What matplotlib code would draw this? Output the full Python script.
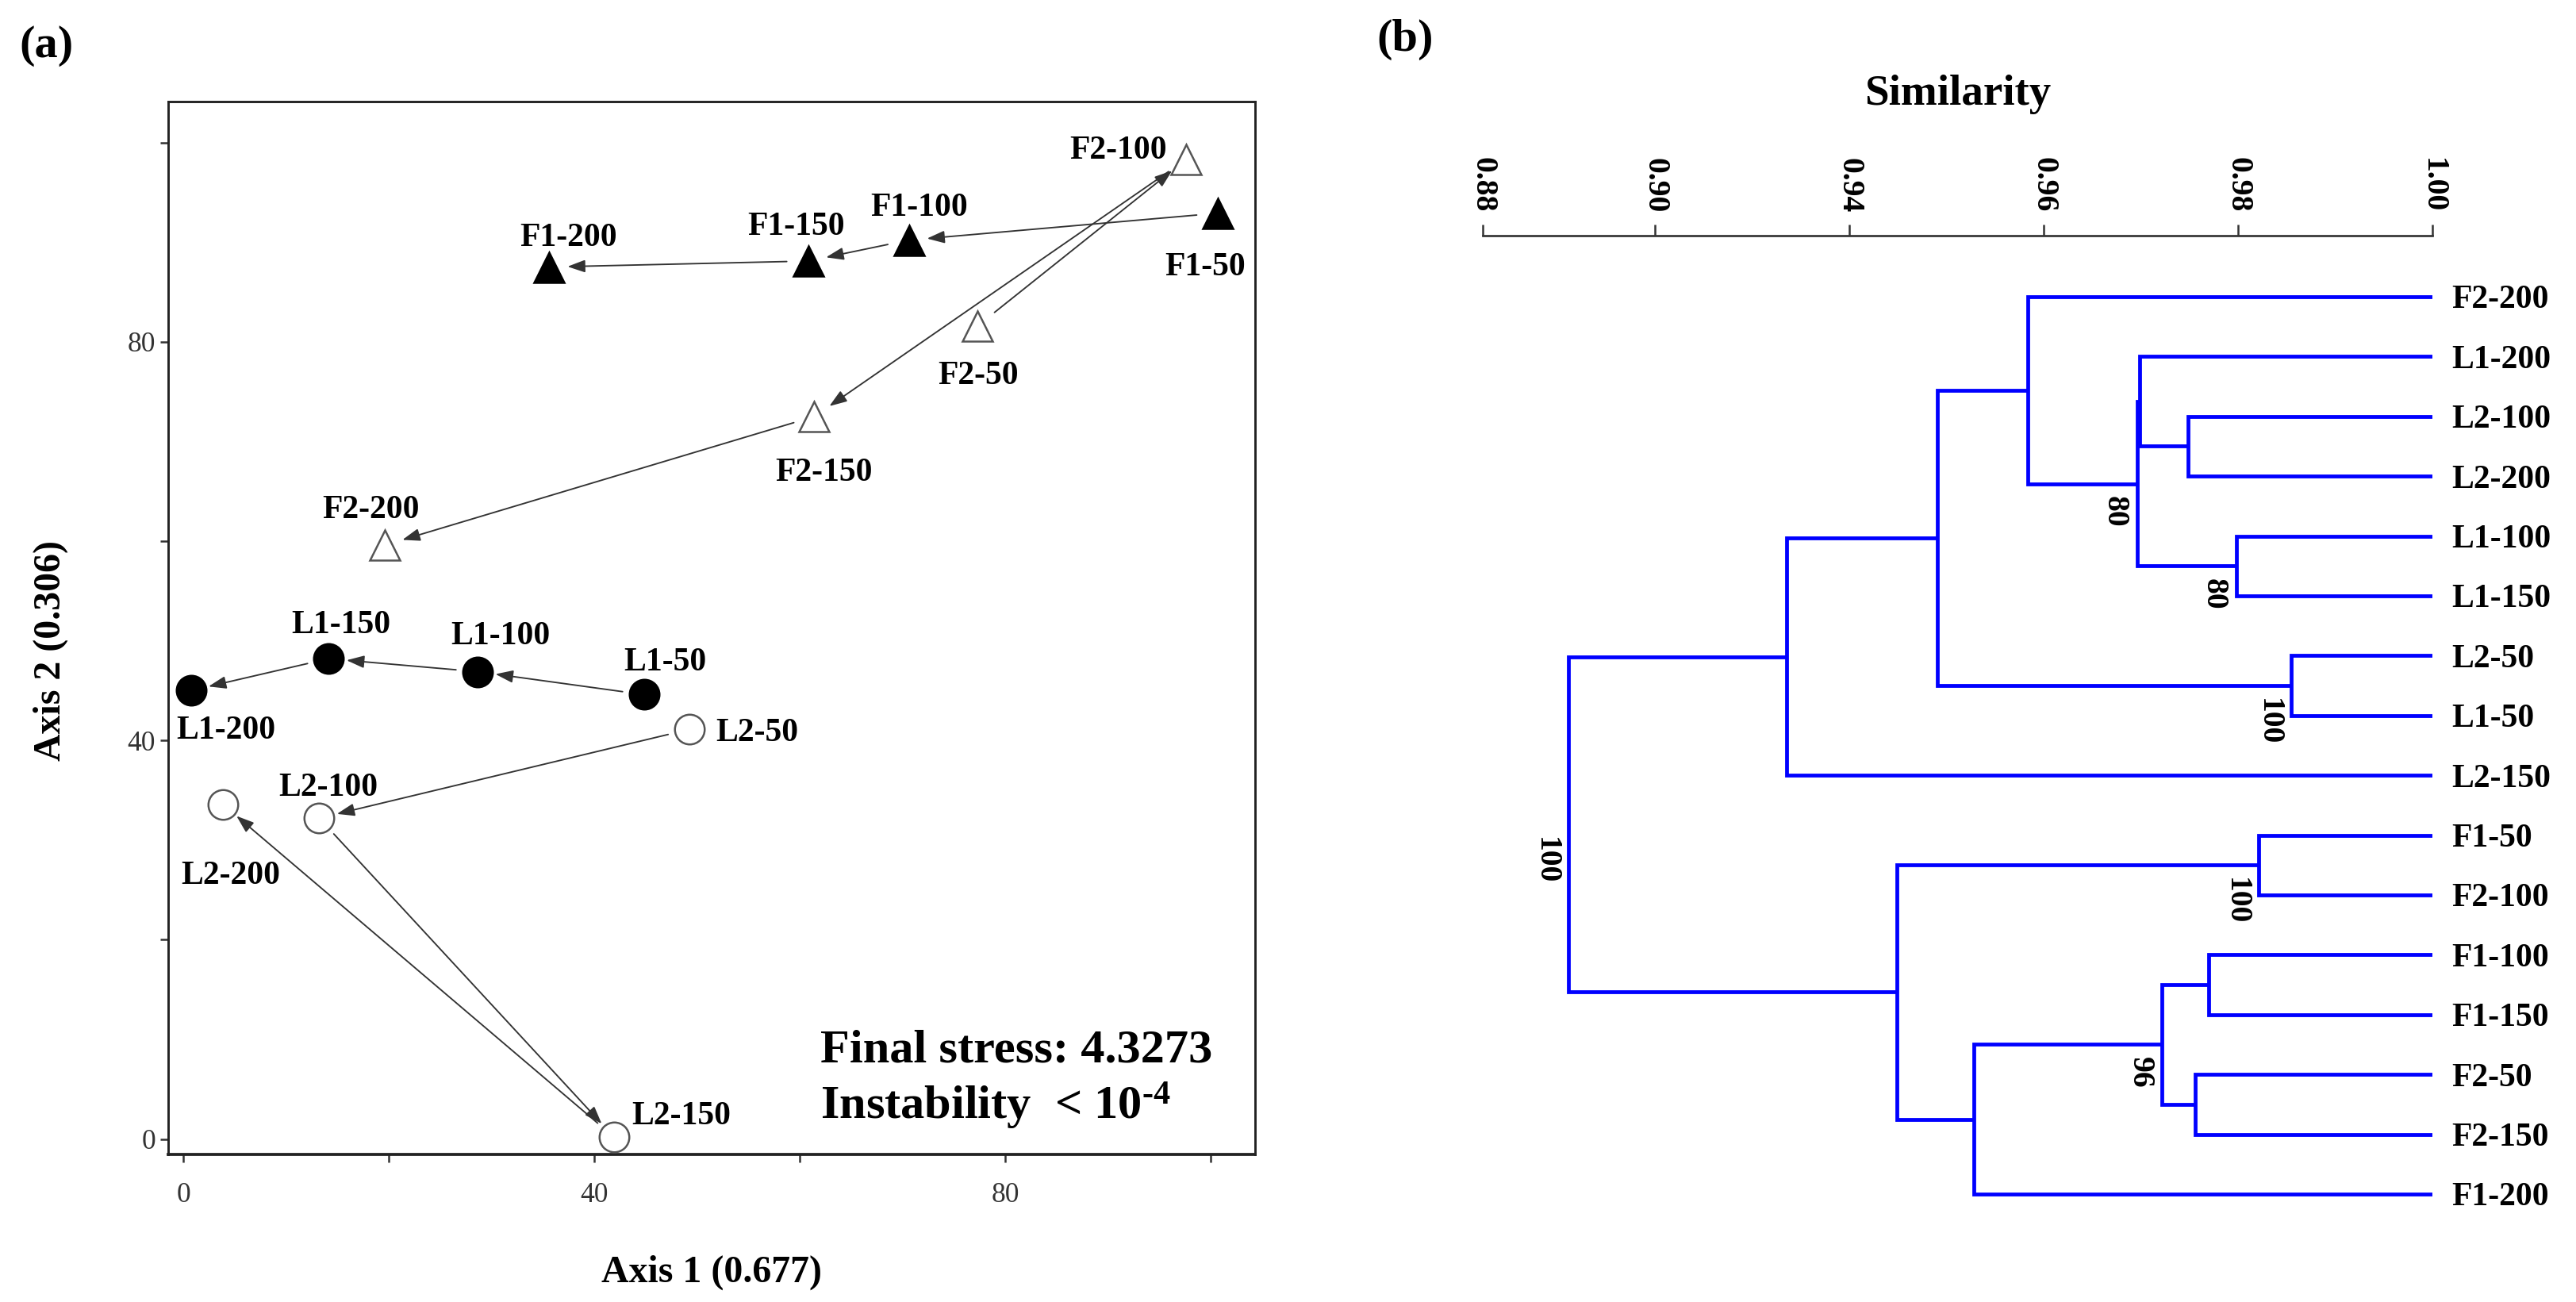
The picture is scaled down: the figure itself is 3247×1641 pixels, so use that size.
import matplotlib as mpl
mpl.use('Agg')
import matplotlib.pyplot as plt

plt.rcParams['font.family'] = 'Liberation Serif'
plt.rcParams['mathtext.fontset'] = 'custom'
plt.rcParams['mathtext.rm'] = 'Liberation Serif:bold'
plt.rcParams['mathtext.it'] = 'Liberation Serif:bold'
plt.rcParams['mathtext.bf'] = 'Liberation Serif:bold'

# ---- (a) NMDS ordination scores, doses 50/100/150/200 ----
doses = [50, 100, 150, 200]
f1_x = [100.7, 70.6, 60.8, 35.6]
f1_y = [92.9, 90.2, 88.1, 87.5]
f2_x = [77.3, 97.6, 61.4, 19.6]
f2_y = [81.6, 98.3, 72.5, 59.6]
l1_x = [44.8, 28.6, 14.1, 0.7]
l1_y = [44.6, 46.9, 48.2, 45.0]
l2_x = [49.2, 13.2, 41.9, 3.8]
l2_y = [41.1, 32.2, 0.2, 33.6]

# ---- (b) dendrogram: leaf order and merges (child, child, similarity) ----
leaves = ['F2-200', 'L1-200', 'L2-100', 'L2-200', 'L1-100', 'L1-150', 'L2-50', 'L1-50',
          'L2-150', 'F1-50', 'F2-100', 'F1-100', 'F1-150', 'F2-50', 'F2-150', 'F1-200']
merges = [(2, 3, 0.9749), (4, 5, 0.9798), (6, 7, 0.9855), (9, 10, 0.9821),
          (11, 12, 0.9770), (13, 14, 0.9756), (1, 16, 0.9699), (22, 17, 0.9696),
          (0, 23, 0.9584), (24, 18, 0.9491), (25, 8, 0.9336), (20, 21, 0.9722),
          (27, 15, 0.9528), (19, 28, 0.9449), (26, 29, 0.9111)]
boot_nodes = [1, 2, 3, 7, 11, 14]
boot_vals = ['80', '100', '100', '80', '96', '100']
sim_ticks = [0.9023, 0.92, 0.94, 0.96, 0.98, 1.00]
sim_labels = ['0.88', '0.90', '0.94', '0.96', '0.98', '1.00']

W, H = 3247, 1641
fig = plt.figure(figsize=(W / 300, H / 300), dpi=300)

# label offsets (points) around each marker
lab_off = {
    'F1-50': (-4.0, -15.3), 'F1-100': (3.2, 10.8), 'F1-150': (-3.7, 11.3), 'F1-200': (5.7, 9.9),
    'F2-50': (0.1, -14.2), 'F2-100': (-20.6, 3.6), 'F2-150': (2.8, -16.0), 'F2-200': (-4.3, 11.7),
    'L1-50': (6.5, 10.7), 'L1-100': (7.1, 11.8), 'L1-150': (3.8, 11.3), 'L1-200': (10.6, -11.0),
    'L2-50': (20.5, 0.0), 'L2-100': (2.8, 10.3), 'L2-150': (20.3, 7.3), 'L2-200': (2.5, -20.5),
}

ax = fig.add_axes([211.5 / W, 1 - 1454.5 / H, (1582 - 211.5) / W, (1454.5 - 128) / H])
ax.set_xlim(-1.54, 104.3)
ax.set_ylim(-1.5, 104.1)

series = [('F1', f1_x, f1_y, '^', 'black'), ('F2', f2_x, f2_y, '^', 'white'),
          ('L1', l1_x, l1_y, 'o', 'black'), ('L2', l2_x, l2_y, 'o', 'white')]
for grp, xs, ys, mk, fc in series:
    for k in range(len(xs) - 1):
        ax.annotate('', xy=(xs[k + 1], ys[k + 1]), xytext=(xs[k], ys[k]),
                    arrowprops=dict(arrowstyle='-|>,head_length=0.45,head_width=0.16',
                                    color='#333333', lw=0.45, shrinkA=6.5, shrinkB=5.5,
                                    mutation_scale=10))
    ax.plot(xs, ys, ls='none', marker=mk, ms=9, mfc=fc,
            mec='black' if fc == 'black' else '#555555', mew=0.6, zorder=3)
    for d, x, y in zip(doses, xs, ys):
        name = f'{grp}-{d}'
        ax.annotate(name, (x, y), xytext=lab_off[name], textcoords='offset points',
                    ha='center', va='center_baseline', fontsize=10, fontweight='bold')

ax.set_xticks([0, 40, 80])
ax.set_xticks([20, 60, 100], minor=True)
ax.set_yticks([0, 40, 80])
ax.set_yticks([20, 60, 100], minor=True)
ax.tick_params(which='both', direction='out', length=2.5, width=0.6, color='#333333')
ax.tick_params(axis='x', which='both', pad=6, labelsize=8.5, labelcolor='#333333')
ax.tick_params(axis='y', which='both', pad=1.2, labelsize=8.5, labelcolor='#333333')
for sp in ax.spines.values():
    sp.set_linewidth(0.7)
    sp.set_color('#222222')
ax.spines['bottom'].set_linewidth(0.9)

ax.set_xlabel('Axis 1 (0.677)', fontsize=11.5, fontweight='bold', labelpad=14)
ax.set_ylabel('Axis 2 (0.306)', fontsize=11.5, fontweight='bold')
ax.yaxis.set_label_coords(-0.0916, 0.478)

ax.text(0.600, 0.0871, 'Final stress: 4.3273', transform=ax.transAxes,
        fontsize=14.5, fontweight='bold', va='baseline')
ax.text(0.600, 0.0332, r'Instability  < 10$^{\text{-}4}$', transform=ax.transAxes,
        fontsize=14.5, fontweight='bold', va='baseline')

# ---- (b) dendrogram ----
ax2 = fig.add_axes([1869 / W, 1 - 1560 / H, (3066 - 1869) / W, (1560 - 297) / H])
ax2.set_xlim(sim_ticks[0], 1.0)
ax2.set_ylim(15.73, -1.021)

pos = [(1.0, i) for i in range(len(leaves))]
for a, b, s in merges:
    xa, ya = pos[a]
    xb, yb = pos[b]
    ax2.plot([xa, s, s, xb], [ya, ya, yb, yb], color='#0000ff', lw=1.15,
             solid_joinstyle='miter', solid_capstyle='butt')
    pos.append((s, (ya + yb) / 2))

for node, val in zip(boot_nodes, boot_vals):
    x, y = pos[len(leaves) + node]
    ax2.annotate(val, (x, y), xytext=(-2.4, -3.8), textcoords='offset points',
                 rotation=270, ha='right', va='top', fontsize=9.5, fontweight='bold')

for side in ['left', 'right', 'bottom']:
    ax2.spines[side].set_visible(False)
ax2.spines['top'].set_linewidth(0.65)
ax2.spines['top'].set_color('#333333')
ax2.xaxis.tick_top()
ax2.set_xticks(sim_ticks)
ax2.set_xticklabels(sim_labels, rotation=270, fontweight='bold')
ax2.tick_params(axis='x', direction='out', length=3.4, width=0.6, color='#333333',
                pad=3.6, labelsize=9.5)
ax2.yaxis.tick_right()
ax2.set_yticks(range(len(leaves)))
ax2.set_yticklabels(leaves, fontweight='bold')
ax2.tick_params(axis='y', length=0, pad=5.8, labelsize=10)
ax2.xaxis.set_label_position('top')
ax2.set_xlabel('Similarity', fontsize=13.2, fontweight='bold', labelpad=16)

fig.text(58 / W, 1 - 58 / H, '(a)', ha='center', va='center', fontsize=14, fontweight='bold')
fig.text(1771 / W, 1 - 50 / H, '(b)', ha='center', va='center', fontsize=14, fontweight='bold')

fig.savefig('out.png', dpi=300)
